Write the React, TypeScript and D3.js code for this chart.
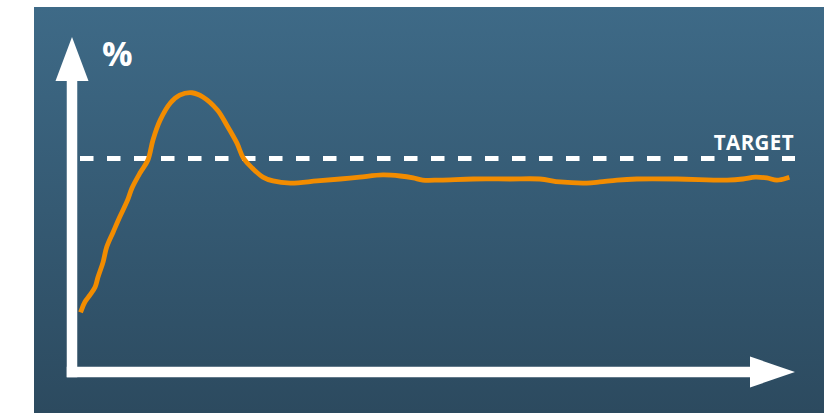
import React from 'react';
import * as d3 from 'd3';

// time axis (arbitrary units, 0..100) and response in % of target
const times = [
  1.3, 1.8, 2.5, 3.2, 3.6, 4.3, 4.8, 5.7, 6.6, 7.7, 8.3, 9.4, 10.5, 11.2, 12.2, 13.6,
  14.9, 16.6, 18.1, 20.1, 21.4, 22.8, 23.7, 24.9, 26.4, 27.8, 30.2, 33.9, 37.1, 39.8,
  43.0, 45.4, 47.2, 48.5, 50.9, 55.5, 60.6, 64.7, 67.5, 71.2, 73.0, 75.4, 78.1, 83.7,
  90.6, 92.8, 94.5, 96.1, 97.5, 98.9,
];
const values = [
  29.0, 32.9, 36.1, 39.8, 44.5, 51.5, 58.5, 65.6, 72.6, 80.6, 86.2, 93.2, 99.3, 108.7,
  118.0, 126.0, 129.7, 130.8, 128.8, 122.7, 115.7, 107.3, 100.2, 95.6, 91.3, 89.5, 88.5,
  89.5, 90.4, 91.3, 92.3, 91.8, 90.9, 89.9, 89.9, 90.4, 90.4, 90.4, 89.0, 88.5, 89.0,
  89.9, 90.4, 90.4, 89.9, 90.4, 91.3, 90.9, 89.9, 90.9,
];
const target = 100;
const yLabel = '%';
const targetLabel = 'TARGET';

const W = 840;
const H = 413;

const App: React.FC = () => {
  const x = d3.scaleLinear().domain([0, 100]).range([72, 795]);
  const y = d3.scaleLinear().domain([0, 100]).range([372, 158.5]);

  const pts = times.map((t, i) => [t, values[i]] as [number, number]);
  const line = d3
    .line<[number, number]>()
    .x((d) => x(d[0]))
    .y((d) => y(d[1]))
    .curve(d3.curveCatmullRom.alpha(0.5));

  const x0 = x(0);
  const y0 = y(0);
  const xEnd = x.range()[1];
  const yTop = 37;
  const barW = 10.5;

  return (
    <svg width={W} height={H} style={{ position: 'absolute', left: 0, top: 0 }}>
      <defs>
        <linearGradient id="bg" x1="0" y1="0" x2="0" y2="1">
          <stop offset="0%" stopColor="#3e6a87" />
          <stop offset="100%" stopColor="#2c4a5f" />
        </linearGradient>
      </defs>
      <rect x={0} y={0} width={W} height={H} fill="#fff" />
      <rect x={34} y={7} width={790} height={H - 7} fill="url(#bg)" />

      {/* target dashed line */}
      <line
        x1={80}
        x2={795}
        y1={y(target)}
        y2={y(target)}
        stroke="#fff"
        strokeWidth={5}
        strokeDasharray="13.5 13.5"
      />
      <text
        x={794}
        y={150}
        textAnchor="end"
        fill="#fff"
        fontFamily="'Open Sans', sans-serif"
        fontWeight={700}
        fontSize={20.5}
        letterSpacing={0.4}
      >
        {targetLabel}
      </text>

      {/* axes */}
      <rect x={x0 - barW / 2} y={81} width={barW} height={y0 - 81 + barW / 2} fill="#fff" />
      <polygon points={`${x0 - 16.5},81 ${x0 + 16.5},81 ${x0},${yTop}`} fill="#fff" />
      <rect x={x0 - barW / 2} y={y0 - barW / 2} width={750 - x0 + barW / 2} height={barW} fill="#fff" />
      <polygon points={`750,${y0 - 15.5} 750,${y0 + 15.5} ${xEnd},${y0}`} fill="#fff" />
      <text
        x={102}
        y={66}
        fill="#fff"
        fontFamily="'Open Sans', sans-serif"
        fontWeight={700}
        fontSize={34}
      >
        {yLabel}
      </text>

      {/* response */}
      <path
        d={line(pts) || ''}
        fill="none"
        stroke="#f28c00"
        strokeWidth={4.8}
        strokeLinejoin="round"
        strokeLinecap="square"
      />
    </svg>
  );
};

export default App;
